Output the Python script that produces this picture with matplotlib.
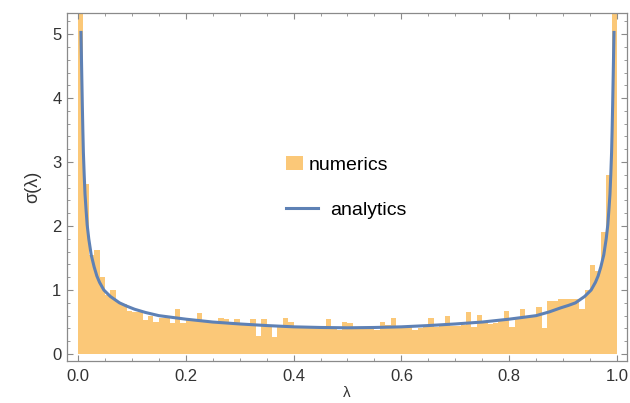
import numpy as np
import matplotlib
matplotlib.use("Agg")
import matplotlib.pyplot as plt
from matplotlib.patches import Rectangle, Patch
from matplotlib.lines import Line2D
from matplotlib.legend_handler import HandlerPatch
from matplotlib.ticker import MultipleLocator

plt.rcParams['font.family'] = ['Liberation Sans', 'DejaVu Sans']

# ---- data: histogram (100 bins of width 0.01 on [0,1]) ----
hist_heights = [
    9.0, 2.65, 1.55, 1.62, 1.20, 0.93, 1.00, 0.82, 0.78, 0.68,
    0.66, 0.66, 0.53, 0.60, 0.50, 0.57, 0.57, 0.48, 0.71, 0.49,
    0.53, 0.53, 0.64, 0.52, 0.51, 0.52, 0.57, 0.55, 0.49, 0.54,
    0.47, 0.48, 0.55, 0.28, 0.55, 0.45, 0.26, 0.45, 0.56, 0.50,
    0.43, 0.42, 0.40, 0.44, 0.42, 0.40, 0.55, 0.41, 0.37, 0.50,
    0.49, 0.40, 0.41, 0.39, 0.42, 0.37, 0.50, 0.45, 0.56, 0.41,
    0.40, 0.42, 0.37, 0.41, 0.44, 0.56, 0.43, 0.45, 0.59, 0.44,
    0.44, 0.46, 0.65, 0.43, 0.61, 0.48, 0.47, 0.49, 0.51, 0.68,
    0.42, 0.55, 0.70, 0.58, 0.60, 0.73, 0.41, 0.83, 0.83, 0.86,
    0.86, 0.86, 0.86, 0.70, 1.00, 1.39, 1.30, 1.90, 2.80, 9.0,
]
bin_lo, bin_hi = 0.0, 1.0

# ---- data: analytic curve ----
lam_curve = [
    0.0055, 0.007, 0.008, 0.009, 0.010, 0.0115, 0.013, 0.015, 0.017, 0.020,
    0.0245, 0.030, 0.035, 0.040, 0.048, 0.060, 0.077, 0.090, 0.105, 0.125,
    0.15, 0.20, 0.25, 0.30, 0.35, 0.40, 0.45, 0.50,
    0.55, 0.60, 0.65, 0.70, 0.75, 0.80, 0.85, 0.875, 0.895, 0.91,
    0.923, 0.94, 0.952, 0.96, 0.965, 0.970, 0.9755, 0.980, 0.983, 0.985,
    0.987, 0.9885, 0.990, 0.991, 0.992, 0.993, 0.9945,
]
sigma_curve = [
    5.05, 4.35, 3.90, 3.50, 3.15, 2.80, 2.50, 2.25, 2.02, 1.80,
    1.55, 1.36, 1.22, 1.12, 1.00, 0.90, 0.80, 0.75, 0.70, 0.65,
    0.60, 0.545, 0.50, 0.47, 0.445, 0.425, 0.415, 0.41,
    0.415, 0.425, 0.445, 0.47, 0.50, 0.545, 0.60, 0.66, 0.72, 0.76,
    0.80, 0.90, 1.00, 1.12, 1.22, 1.36, 1.55, 1.80, 2.02, 2.25,
    2.50, 2.80, 3.15, 3.50, 3.90, 4.35, 5.05,
]

x_ticks = [0.0, 0.2, 0.4, 0.6, 0.8, 1.0]
x_ticklabels = ["0.0", "0.2", "0.4", "0.6", "0.8", "1.0"]
y_ticks = [0, 1, 2, 3, 4, 5]

bar_color = '#FBC878'
line_color = '#5E81B5'
frame_color = '#8a8a8a'
text_color = '#333333'

W, H = 630, 403
fig = plt.figure(figsize=(W / 100, H / 100), dpi=100)
ax = fig.add_axes([67 / W, 1 - 361 / H, (627 - 67) / W, (361 - 13) / H])

nb = len(hist_heights)
edges = np.linspace(bin_lo, bin_hi, nb + 1)
ax.bar(edges[:-1], hist_heights, width=np.diff(edges), align='edge',
       color=bar_color, edgecolor='none', linewidth=0, zorder=1)
ax.plot(lam_curve, sigma_curve, color=line_color, lw=2.2, zorder=3,
        solid_capstyle='butt')

ax.set_xlim(-0.0204, 1.0186)
ax.set_ylim(-0.109, 5.33)

ax.set_xticks(x_ticks)
ax.set_xticklabels(x_ticklabels)
ax.set_yticks(y_ticks)
ax.xaxis.set_minor_locator(MultipleLocator(0.05))
ax.yaxis.set_minor_locator(MultipleLocator(0.2))
ax.tick_params(which='both', direction='in', top=True, right=True,
               color=frame_color, labelcolor=text_color, labelsize=12)
ax.tick_params(which='major', length=4.5, width=0.8)
ax.tick_params(which='minor', length=2.5, width=0.6)
ax.tick_params(axis='x', pad=6)
ax.tick_params(axis='y', pad=4)
for s in ax.spines.values():
    s.set_color(frame_color)
    s.set_linewidth(0.9)

ax.set_ylabel('σ(λ)', fontsize=13, color=text_color, labelpad=8)
ax.set_xlabel('λ', fontsize=11, color=text_color, labelpad=1)


def square_patch(legend, orig_handle, xdescent, ydescent, width, height, fontsize):
    return Rectangle((-xdescent, -ydescent), height * 1.2, height)


leg1 = ax.legend([Patch(facecolor=bar_color, edgecolor='none')], ['numerics'],
                 loc='center left', bbox_to_anchor=(286 / W, 1 - 165 / H),
                 bbox_transform=fig.transFigure, frameon=False, fontsize=14,
                 handlelength=0.88, handleheight=0.75, handletextpad=0.3,
                 borderpad=0, borderaxespad=0,
                 handler_map={Patch: HandlerPatch(patch_func=square_patch)})
ax.add_artist(leg1)
ax.legend([Line2D([], [], color=line_color, lw=2.2)], ['analytics'],
          loc='center left', bbox_to_anchor=(286 / W, 1 - 210 / H),
          bbox_transform=fig.transFigure, frameon=False, fontsize=14,
          handlelength=1.65, handletextpad=0.6, borderpad=0, borderaxespad=0)

fig.savefig('out.png', dpi=100)
